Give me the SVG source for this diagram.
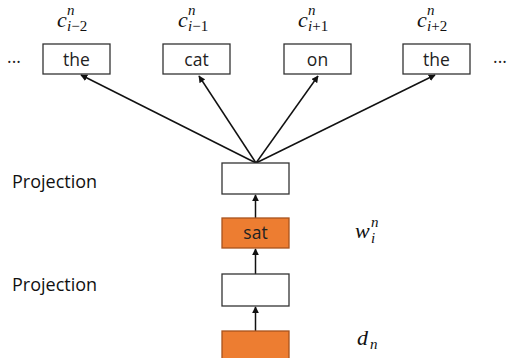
<svg xmlns="http://www.w3.org/2000/svg" width="509" height="358" viewBox="0 0 509 358">
<style>
.box{fill:#fff;stroke:#333;stroke-width:1.3}
.org{fill:#ED7D31;stroke:#A8531D;stroke-width:1.3}
.t{font-family:"Open Sans","Liberation Sans",sans-serif;font-size:17.5px;fill:#222;text-anchor:middle}
.lbl{font-family:"Open Sans","Liberation Sans",sans-serif;font-size:18px;fill:#111}
.m{font-family:"Liberation Serif","DejaVu Serif",serif;font-style:italic;font-size:22px;fill:#111}
.ms{font-family:"Liberation Serif","DejaVu Serif",serif;font-style:italic;font-size:15px;fill:#111}
.up{font-style:normal}
.ln{stroke:#111;stroke-width:1.5;fill:none}
</style>
<defs>
<marker id="ah" viewBox="0 0 10 10" refX="9" refY="5" markerWidth="7" markerHeight="7" markerUnits="userSpaceOnUse" orient="auto">
<path d="M0,0 L10,5 L0,10 z" fill="#111"/>
</marker>
</defs>
<g id="connectors">
<line class="ln" x1="256" y1="163" x2="81" y2="75" marker-end="url(#ah)"/>
<line class="ln" x1="256" y1="163" x2="199" y2="76" marker-end="url(#ah)"/>
<line class="ln" x1="256" y1="163" x2="318" y2="76" marker-end="url(#ah)"/>
<line class="ln" x1="256" y1="163" x2="435" y2="75" marker-end="url(#ah)"/>
<line class="ln" x1="255.5" y1="218" x2="255.5" y2="195" marker-end="url(#ah)"/>
<line class="ln" x1="255.5" y1="274" x2="255.5" y2="249" marker-end="url(#ah)"/>
<line class="ln" x1="255.5" y1="331" x2="255.5" y2="307" marker-end="url(#ah)"/>
</g>
<g id="c1"><rect class="box" x="43" y="44" width="67" height="30"/><text class="t" x="76.5" y="66">the</text></g>
<g id="c2"><rect class="box" x="163" y="44" width="67" height="30"/><text class="t" x="196.5" y="66">cat</text></g>
<g id="c3"><rect class="box" x="284" y="44" width="67" height="30"/><text class="t" x="317.5" y="66">on</text></g>
<g id="c4"><rect class="box" x="403" y="44" width="67" height="30"/><text class="t" x="436.5" y="66">the</text></g>
<g id="dots"><text class="t" x="14" y="63">...</text><text class="t" x="500" y="63">...</text></g>
<g id="lc1"><text class="m" x="57" y="27">c</text><text class="ms" x="67" y="15">n</text><text class="ms" x="67" y="31">i<tspan class="up">−2</tspan></text></g>
<g id="lc2"><text class="m" x="178" y="27">c</text><text class="ms" x="188" y="15">n</text><text class="ms" x="188" y="31">i<tspan class="up">−1</tspan></text></g>
<g id="lc3"><text class="m" x="298" y="27">c</text><text class="ms" x="308" y="15">n</text><text class="ms" x="308" y="31">i<tspan class="up">+1</tspan></text></g>
<g id="lc4"><text class="m" x="417" y="27">c</text><text class="ms" x="427" y="15">n</text><text class="ms" x="427" y="31">i<tspan class="up">+2</tspan></text></g>
<g id="proj1"><rect class="box" x="222" y="163" width="67" height="31"/></g>
<g id="sat"><rect class="org" x="222" y="218" width="67" height="30"/><text class="t" x="255.5" y="239">sat</text></g>
<g id="proj2"><rect class="box" x="222" y="274" width="67" height="32"/></g>
<g id="doc"><rect class="org" x="222" y="331" width="67" height="30"/></g>
<text class="lbl" x="12" y="188">Projection</text>
<text class="lbl" x="12" y="291">Projection</text>
<g id="lw"><text class="m" x="355" y="238">w</text><text class="ms" x="371" y="227">n</text><text class="ms" x="371" y="243">i</text></g>
<g id="ld"><text class="m" x="357" y="345">d</text><text class="ms" x="370" y="349">n</text></g>
</svg>
